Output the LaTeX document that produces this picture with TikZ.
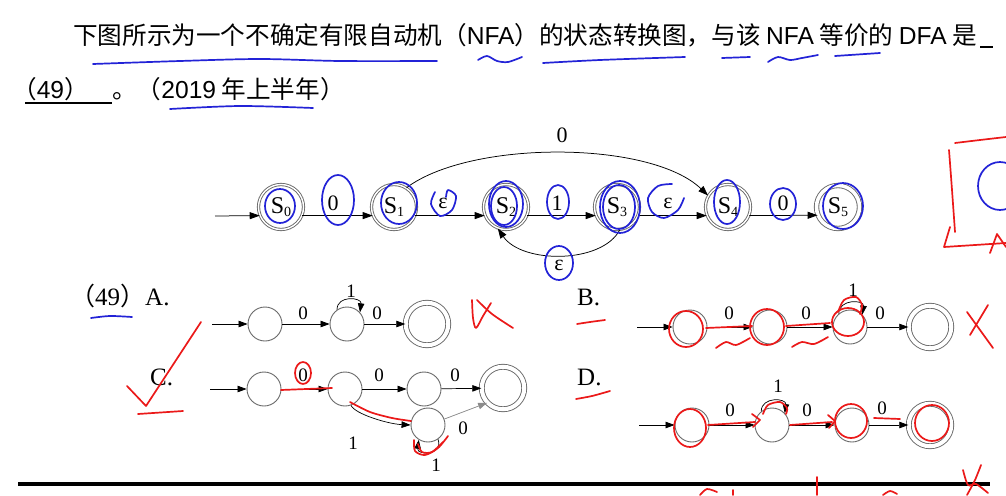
\documentclass[tikz,border=0pt]{standalone}
\usepackage{fontspec}
\setmainfont{Liberation Serif}
\newfontfamily\cjk{Noto Sans CJK SC}
\newfontfamily\arial{Liberation Sans}
\usetikzlibrary{arrows.meta}
\definecolor{hblue}{RGB}{35,35,215}
\definecolor{hred}{RGB}{235,25,25}
\definecolor{ring}{RGB}{105,105,105}
\newcommand\stl[2]{#1\raisebox{-3pt}{\fontsize{14}{14}\selectfont #2}}
\tikzset{
  st/.style={circle, draw=ring, line width=0.9pt, double=white, double distance=1.4pt,
    minimum size=45pt, inner sep=0pt, font=\fontsize{24}{24}\selectfont},
  acc/.style={st, double distance=3.5pt, minimum size=43pt},
  sm/.style={circle, draw=ring, line width=0.9pt, minimum size=34pt, inner sep=0pt},
  smacc/.style={sm, double=white, double distance=4pt, minimum size=42.5pt},
  e/.style={-{Triangle[length=10pt,width=7pt]}, line width=0.75pt},
  se/.style={-{Triangle[length=9pt,width=6.5pt]}, line width=0.7pt},
  lab/.style={inner sep=0pt, font=\fontsize{22}{22}\selectfont},
  slab/.style={inner sep=0pt, font=\fontsize{19}{19}\selectfont},
  opt/.style={inner sep=0pt, anchor=base west, font=\fontsize{25}{25}\selectfont},
  hb/.style={draw=hblue, line width=1.7pt, line cap=round, line join=round},
  hr/.style={draw=hred, line width=1.7pt, line cap=round, line join=round},
}
\begin{document}
\begin{tikzpicture}[x=1pt,y=-1pt]
\useasboundingbox[fill=white] (0,0) rectangle (1006,495);

% ---------- question text ----------
\node[inner sep=0pt, anchor=base west, font=\fontsize{24.6}{24.6}\selectfont] (t1) at (73,45)
  {\cjk 下图所示为一个不确定有限自动机（{\arial NFA}）的状态转换图，与该 {\arial NFA} 等价的 {\arial DFA} 是};
\draw[line width=1.6pt] (980,47) -- (993,47);
\node[inner sep=0pt, anchor=base west, font=\fontsize{24.6}{24.6}\selectfont] (t2) at (12,98)
  {\cjk （{\arial 49}）};
\draw[line width=1.6pt] (25,103) -- (112,103);
\node[inner sep=0pt, anchor=base west, font=\fontsize{24.6}{24.6}\selectfont] (t3) at (112,98)
  {\cjk 。（{\arial 2019} 年上半年）};

% ---------- NFA ----------
\node[st]  (S0) at (281,207) {\stl{S}{0}};
\node[st]  (S1) at (394,207) {\stl{S}{1}};
\node[st]  (S2) at (506,207) {\stl{S}{2}};
\node[st]  (S3) at (617,207) {\stl{S}{3}};
\node[st]  (S4) at (728,207) {\stl{S}{4}};
\node[acc] (S5) at (838,207) {\stl{S}{5}};
\coordinate (in0) at (215,216);
\draw[e] (in0) -- (S0.-158);
\draw[e] (S0.-22) -- (S1.-158);
\draw[e] (S1.-22) -- (S2.-158);
\draw[e] (S2.-22) -- (S3.-158);
\draw[e] (S3.-22) -- (S4.-158);
\draw[e] (S4.-22) -- (S5.-158);
\draw[e] (S1.57) .. controls (470,140) and (650,140) .. (S4.150);
\draw[e] (S3.-83) .. controls (602,264) and (522,264) .. (S2.-111);
\node[lab] (l01) at (333,203) {0};
\node[lab] (l12) at (443,203) {ε};
\node[lab] (l23) at (557,203) {1};
\node[lab] (l34) at (668,203) {ε};
\node[lab] (l45) at (783,203) {0};
\node[lab] (l14) at (562,135) {0};
\node[lab] (l32) at (559,265) {ε};

% ---------- options ----------
\node[opt] (oA) at (70,305) {{\cjk （}49{\cjk ）}A.};
\node[opt] (oB) at (577,305) {B.};
\node[opt] (oC) at (150,385) {C.};
\node[opt] (oD) at (577,385) {D.};

% A
\node[sm] (a1) at (265,324) {};
\node[sm] (a2) at (347,324) {};
\node[smacc] (a3) at (427,324) {};
\coordinate (ina) at (212,324);
\draw[se] (ina) -- (a1);
\draw[se] (a1) -- (a2);
\draw[se] (a2) -- (a3);
\draw[se] (a2.125) .. controls +(0,-15) and +(2,-15) .. (a2.42);
\node[slab] at (303,313) {0};
\node[slab] at (377,313) {0};
\node[slab] at (351,291) {1};

% B
\node[sm] (b1) at (690,327) {};
\node[sm] (b2) at (770,327) {};
\node[sm] (b3) at (850,327) {};
\node[smacc] (b4) at (930,327) {};
\coordinate (inb) at (637,327);
\draw[se] (inb) -- (b1);
\draw[se] (b1) -- (b2);
\draw[se] (b2) -- (b3);
\draw[se] (b3) -- (b4);
\draw[se] (b3.130) .. controls +(0,-15) and +(2,-15) .. (b3.45);
\node[slab] at (729,313) {0};
\node[slab] at (806,313) {0};
\node[slab] at (880,313) {0};
\node[slab] at (853,290) {1};

% C
\node[sm] (c1) at (264,389) {};
\node[sm] (c2) at (345,389) {};
\node[sm] (c3) at (424,389) {};
\node[smacc] (c4) at (503,388) {};
\node[sm] (c5) at (428,425) {};
\coordinate (inc) at (210,389);
\draw[se] (inc) -- (c1);
\draw[se] (c1) -- (c2);
\draw[se] (c2) -- (c3);
\draw[se] (c3) -- (c4);
\draw[se] (c2.-70) .. controls (355,414) and (388,424) .. (c5.west);
\draw[se, draw=black!45, fill=black!45] (c5.20) -- (c4.223);
\draw[se] (c5.-55) .. controls +(6,16) and +(-2,16) .. (c5.-122);
\node[slab] at (303,375) {0};
\node[slab] at (379,375) {0};
\node[slab] at (455,375) {0};
\node[slab] at (353,443) {1};
\node[slab] at (463,428) {0};
\node[slab] at (436,465) {1};

% D
\node[sm] (d1) at (692,425) {};
\node[sm] (d2) at (772,425) {};
\node[sm] (d3) at (852,425) {};
\node[smacc] (d4) at (930,425) {};
\coordinate (ind) at (639,425);
\draw[se] (ind) -- (d1);
\draw[se] (d1) -- (d2);
\draw[se] (d2) -- (d3);
\draw[se] (d3) -- (d4);
\draw[se] (d2.128) .. controls +(0,-15) and +(2,-15) .. (d2.43);
\node[slab] at (730,410) {0};
\node[slab] at (807,410) {0};
\node[slab] at (882,408) {0};
\node[slab] at (778,386) {1};

% bottom rule
\draw[line width=3.3pt] (18,484) -- (990,484);

% ---------- blue handwriting ----------
\draw[hb] plot[smooth] coordinates {(93,64) (180,61) (260,59) (340,61) (437,61)};
\draw[hb] plot[smooth] coordinates {(478,60) (487,56) (497,61) (508,62) (522,57)};
\draw[hb] plot[smooth] coordinates {(543,63) (600,60) (685,57)};
\draw[hb] (722,58) -- (750,57);
\draw[hb] plot[smooth] coordinates {(768,62) (778,57) (790,60) (802,58) (818,55)};
\draw[hb] (835,56) -- (880,53);
\draw[hb] plot[smooth] coordinates {(170,109) (240,106) (313,108)};
\draw[hb] plot[smooth] coordinates {(91,318) (110,316) (132,317)};
\draw[hb] (280,206) ellipse [x radius=15, y radius=17];
\draw[hb] (338,200) ellipse [x radius=16, y radius=25];
\draw[hb] (399,203) ellipse [x radius=18, y radius=21];
\draw[hb] plot[smooth] coordinates {(435,192) (431,204) (440,216) (452,210) (456,196) (448,190) (446,197)};
\draw[hb] (506,204) ellipse [x radius=17, y radius=23];
\draw[hb] (504,206) ellipse [x radius=13, y radius=19];
\draw[hb] (558,202) ellipse [x radius=11, y radius=17];
\draw[hb] (620,207) ellipse [x radius=20, y radius=26];
\draw[hb] (619,207) ellipse [x radius=16, y radius=22];
\draw[hb] plot[smooth] coordinates {(672,184) (658,186) (648,198) (652,212) (664,218) (678,210) (684,198)};
\draw[hb] (727,202) ellipse [x radius=13, y radius=22];
\draw[hb] (783,204) ellipse [x radius=13, y radius=16];
\draw[hb] (843,206) ellipse [x radius=20, y radius=23];
\draw[hb] (559,263) ellipse [x radius=14, y radius=17];
\draw[hb] (1000,186) ellipse [x radius=22, y radius=24];

% ---------- red handwriting ----------
\draw[hr] plot[smooth] coordinates {(955,143) (980,140) (1006,137)};
\draw[hr] plot[smooth] coordinates {(949,150) (952,190) (955,232)};
\draw[hr] (950,227) -- (944,247) -- (1006,243);
\draw[hr] (990,253) -- (997,234) -- (1006,247);
% A
\draw[hr] plot[smooth] coordinates {(472,300) (473,318) (476,328) (483,316) (491,303)};
\draw[hr] plot[smooth] coordinates {(477,300) (492,314) (513,328)};
% B
\draw[hr] plot[smooth] coordinates {(577,324) (590,322) (605,320)};
\draw[hr] (686,329) ellipse [x radius=17, y radius=18];
\draw[hr] (706,328) -- (752,326);
\draw[hr] (767,327) ellipse [x radius=17, y radius=18];
\draw[hr] (786,326) -- (830,323);
\draw[hr] (848,322) ellipse [x radius=16, y radius=14];
\draw[hr] plot[smooth] coordinates {(838,312) (844,300) (856,297) (862,305) (860,314)};
\draw[hr] plot[smooth] coordinates {(716,348) (726,342) (736,345) (750,338)};
\draw[hr] plot[smooth] coordinates {(792,347) (802,342) (814,344) (828,337)};
\draw[hr] (967,312) -- (993,348);
\draw[hr] (988,305) -- (970,335);
% C
\draw[hr] (127,386) -- (146,406) -- (201,322);
\draw[hr] (138,414) -- (183,411);
\draw[hr] (281,390) -- (332,388);
\draw[hr] (303,373) ellipse [x radius=8, y radius=11];
\draw[hr] plot[smooth] coordinates {(350,402) (370,412) (392,418) (411,421)};
\draw[hr] plot[smooth] coordinates {(414,440) (415,451) (425,455) (438,448) (448,436)};
\draw[hr] plot[smooth] coordinates {(418,444) (422,452) (432,452) (443,442)};
% D
\draw[hr] plot[smooth] coordinates {(576,399) (592,396) (610,391)};
\draw[hr] (690,428) ellipse [x radius=16, y radius=19];
\draw[hr] (708,425) -- (755,422);
\draw[hr] (752,414) -- (760,420) -- (753,427);
\draw[hr] plot[smooth] coordinates {(763,414) (768,405) (780,402) (787,408) (786,414)};
\draw[hr] (790,425) -- (832,422);
\draw[hr] (828,415) -- (835,421) -- (829,428);
\draw[hr] (851,421) ellipse [x radius=16, y radius=17];
\draw[hr] (874,418) -- (900,419);
\draw[hr] (932,423) ellipse [x radius=17, y radius=18];
% bottom strip
\draw[hr] plot[smooth] coordinates {(700,495) (707,489) (717,492)};
\draw[hr] (733,490) -- (733,495);
\draw[hr] (817,477) -- (817,495);
\draw[hr] plot[smooth] coordinates {(883,495) (890,491) (897,494)};
\draw[hr] plot[smooth] coordinates {(981,465) (975,480) (967,495)};
\draw[hr] plot[smooth] coordinates {(963,470) (968,485) (976,484) (988,493)};
\end{tikzpicture}
\end{document}
